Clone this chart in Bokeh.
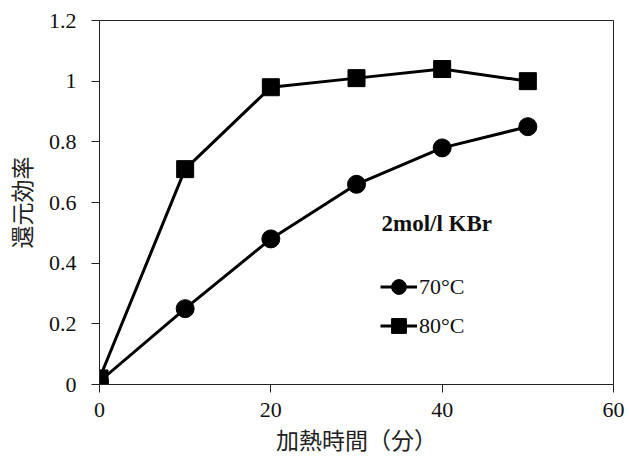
from bokeh.plotting import figure
from bokeh.models import FixedTicker, Legend, LegendItem, Label, CustomJSTickFormatter
from bokeh.embed import file_html
from bokeh.resources import INLINE

# Data
time_min = [0, 10, 20, 30, 40, 50]
eff_70 = [0.01, 0.25, 0.48, 0.66, 0.78, 0.85]
eff_80 = [0.02, 0.71, 0.98, 1.01, 1.04, 1.00]
x_ticks = [0, 20, 40, 60]
y_ticks = [0, 0.2, 0.4, 0.6, 0.8, 1.0, 1.2]
series_labels = ["70°C", "80°C"]
note_text = "2mol/l KBr"
x_label = "加熱時間（分）"
y_label = "還元効率"

SERIF = "Liberation Serif"
CJK = "Noto Sans CJK JP"

p = figure(width=625, height=462, x_range=(0, 60), y_range=(0, 1.2),
           output_backend="svg", toolbar_location=None,
           min_border_left=98, min_border_right=12, min_border_top=20, min_border_bottom=78)

p.grid.visible = False
p.outline_line_color = "#222222"
p.outline_line_width = 1
p.background_fill_color = "white"
p.border_fill_color = "white"

for ax in (p.xaxis[0], p.yaxis[0]):
    ax.axis_line_color = "#222222"
    ax.major_tick_line_color = "#222222"
    ax.major_tick_out = 8
    ax.major_tick_in = 0
    ax.minor_tick_line_color = None
    ax.major_label_text_font = SERIF
    ax.major_label_text_font_size = "22px"
    ax.major_label_text_color = "#111111"
    ax.axis_label_text_font = CJK
    ax.axis_label_text_font_size = "23px"
    ax.axis_label_text_font_style = "normal"
    ax.axis_label_text_color = "#222222"

p.xaxis.ticker = FixedTicker(ticks=x_ticks)
p.yaxis.ticker = FixedTicker(ticks=y_ticks)
p.yaxis.formatter = CustomJSTickFormatter(code="return String(Math.round(tick*10)/10);")
p.xaxis.major_label_standoff = 10
p.yaxis.major_label_standoff = 15
p.xaxis.axis_label = x_label
p.yaxis.axis_label = y_label
p.xaxis.axis_label_standoff = 2
p.yaxis.axis_label_standoff = 8

r70l = p.line(time_min, eff_70, line_width=3, line_color="black")
r70m = p.scatter(time_min, eff_70, marker="circle", size=18, fill_color="black", line_color="black")
r80l = p.line(time_min, eff_80, line_width=3, line_color="black")
r80m = p.scatter(time_min, eff_80, marker="square", size=17, fill_color="black", line_color="black")

legend = Legend(items=[LegendItem(label=series_labels[0], renderers=[r70l, r70m]),
                       LegendItem(label=series_labels[1], renderers=[r80l, r80m])],
                location=(281, 40), orientation="vertical",
                glyph_width=37, glyph_height=37, label_height=37, spacing=2,
                padding=0, margin=0, label_standoff=2,
                label_text_font=SERIF, label_text_font_size="22px",
                label_text_color="#111111",
                border_line_alpha=0, background_fill_alpha=0)
p.add_layout(legend)

note = Label(x=282, y=161, x_units="screen", y_units="screen", text=note_text,
             text_font=SERIF, text_font_style="bold", text_font_size="23px",
             text_baseline="middle", text_color="#111111")
p.add_layout(note)

open("out.html", "w").write(file_html(p, INLINE))
